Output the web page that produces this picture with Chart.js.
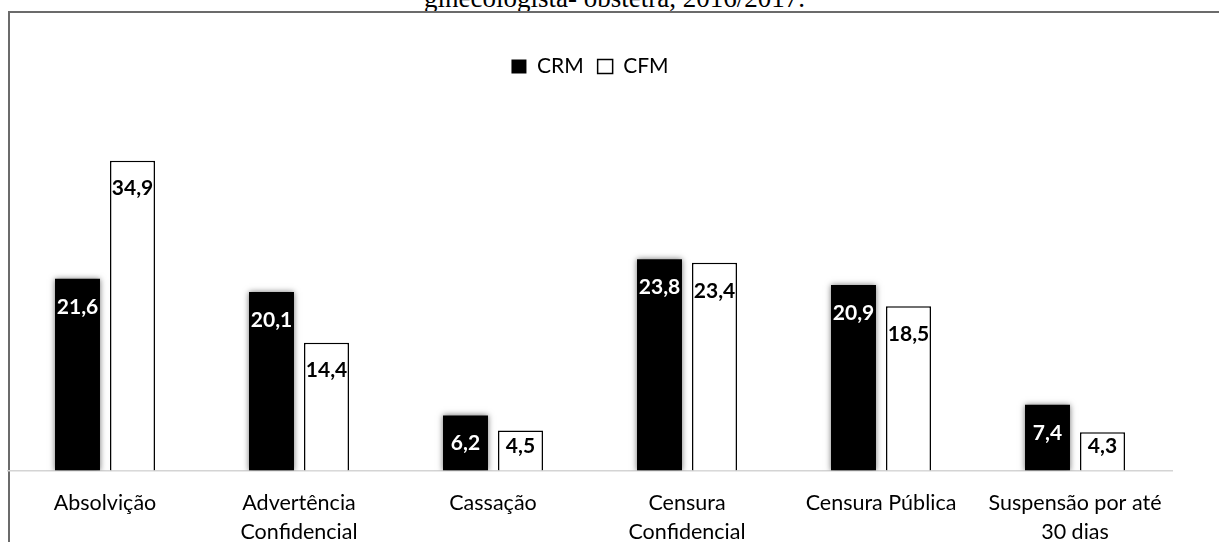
<!DOCTYPE html>
<html>
<head>
<meta charset="utf-8">
<script src="https://cdn.jsdelivr.net/npm/chart.js@4.4.1/dist/chart.umd.min.js"></script>
<style>
  body { margin: 0; width: 1219px; height: 542px; overflow: hidden; background: #fff; position: relative; }
  #titulo { position: absolute; left: 5px; width: 1219px; top: -17px; text-align: center;
            font-family: "Liberation Serif", "Times New Roman", serif; font-size: 27px; line-height: 30px;
            color: #000; white-space: nowrap; }
  #moldura { position: absolute; left: 8px; top: 11px; width: 1240px; height: 580px;
             border-left: 2px solid #6b6b6b; border-top: 2px solid #6b6b6b; background: #fff; }
  #caixa { position: absolute; left: 0; top: 0; width: 1219px; height: 577px; }
</style>
</head>
<body>
<div id="titulo">ginecologista- obstetra, 2016/2017.</div>
<div id="moldura"></div>
<div id="caixa"><canvas id="penalidadesChart"></canvas></div>
<script>
var categorias = [
  "Absolvição",
  ["Advertência", "Confidencial"],
  "Cassação",
  ["Censura", "Confidencial"],
  "Censura Pública",
  ["Suspensão por até", "30 dias"]
];
var crm = [21.6, 20.1, 6.2, 23.8, 20.9, 7.4];
var cfm = [34.9, 14.4, 4.5, 23.4, 18.5, 4.3];

var fonte = "Lato, 'Noto Sans', sans-serif";

// sombra suave nas barras pretas
var sombraCRM = {
  id: "sombraCRM",
  beforeDatasetDraw: function (chart, args) {
    if (args.index === 0) {
      chart.ctx.save();
      chart.ctx.shadowColor = "rgba(0,0,0,0.55)";
      chart.ctx.shadowBlur = 6;
    }
  },
  afterDatasetDraw: function (chart, args) {
    if (args.index === 0) chart.ctx.restore();
  }
};

// rótulos com o valor dentro da barra, perto do topo
var rotulos = {
  id: "rotulos",
  afterDatasetsDraw: function (chart) {
    var ctx = chart.ctx;
    ctx.save();
    ctx.font = "bold 21px " + fonte;
    ctx.textAlign = "center";
    ctx.textBaseline = "middle";
    chart.data.datasets.forEach(function (ds, i) {
      var meta = chart.getDatasetMeta(i);
      meta.data.forEach(function (bar, j) {
        var altura = bar.base - bar.y;
        var desc = Math.min(28, altura - 24);
        ctx.fillStyle = i === 0 ? "#fff" : "#000";
        ctx.fillText(ds.data[j].toFixed(1).replace(".", ","), bar.x, bar.y + desc);
      });
    });
    ctx.restore();
  }
};

var ctx = document.getElementById("penalidadesChart");

var myBarChart = new Chart(ctx, {
  type: "bar",
  data: {
    labels: categorias,
    datasets: [
      {
        label: "CRM",
        data: crm,
        backgroundColor: "#000",
        borderColor: "#000",
        borderWidth: 0
      },
      {
        label: "CFM",
        data: cfm,
        backgroundColor: "#fff",
        borderColor: "#000",
        borderWidth: 1.5
      }
    ]
  },
  options: {
    responsive: true,
    maintainAspectRatio: false,
    animation: false,
    categoryPercentage: 0.567,
    barPercentage: 0.818,
    layout: { padding: { left: 8, right: 47, top: 42, bottom: 12 } },
    plugins: {
      legend: {
        position: "top",
        labels: {
          boxWidth: 15,
          boxHeight: 14,
          padding: 14,
          color: "#000",
          font: { family: fonte, size: 21 }
        }
      },
      tooltip: { enabled: false }
    },
    scales: {
      x: {
        grid: { display: false, drawTicks: false },
        border: { color: "#d4d4d4", width: 1.5 },
        ticks: {
          color: "#000",
          padding: 18,
          autoSkip: false,
          maxRotation: 0,
          font: { family: fonte, size: 21.5, lineHeight: 1.36 }
        }
      },
      y: {
        display: false,
        min: 0,
        max: 43.2
      }
    }
  },
  plugins: [sombraCRM, rotulos]
});
</script>
</body>
</html>
